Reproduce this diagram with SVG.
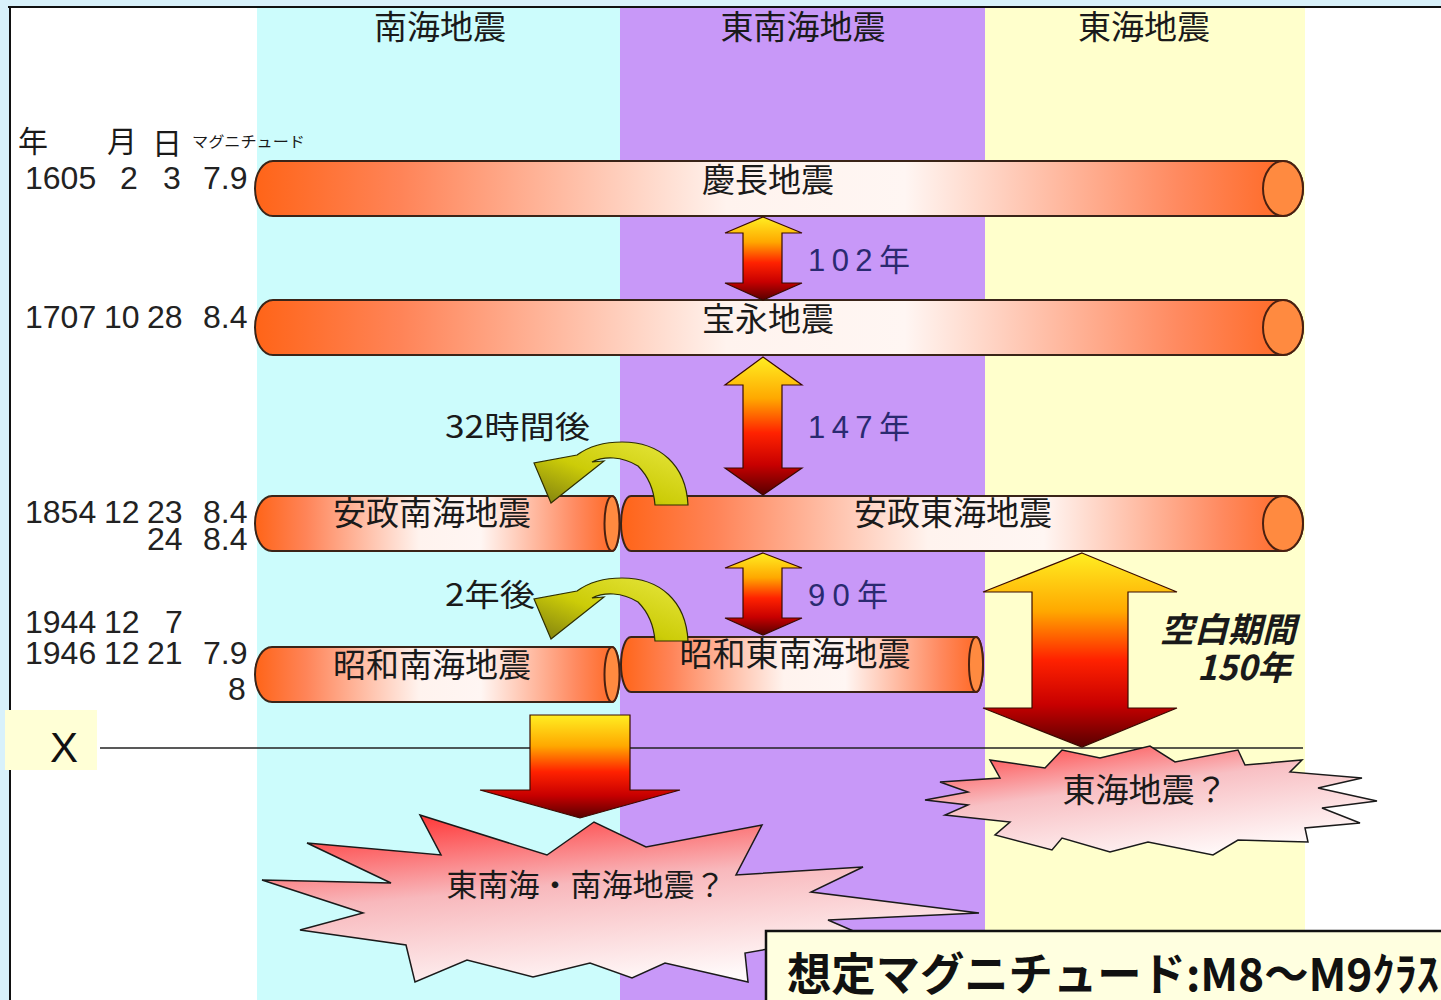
<svg xmlns="http://www.w3.org/2000/svg" width="1441" height="1000" viewBox="0 0 1441 1000">
<defs>
<style>
.jp{font-family:"Noto Sans CJK JP","Noto Sans",sans-serif;fill:#1a1a1a;}
.num{font-family:"Liberation Sans","Noto Sans CJK JP",sans-serif;fill:#222;font-size:32px;}
.hdr{font-size:33px;}
.bar{fill:url(#barGrad);stroke:#3a2418;stroke-width:2;}
.cap{fill:#FF8A40;stroke:#4a2010;stroke-width:2;}
.arr{fill:url(#arrGrad);stroke:#3a0a00;stroke-width:1.2;}
.curv{fill:url(#curvGrad);stroke:#2e2e00;stroke-width:1.2;}
.gap{font-family:"Liberation Sans","Noto Sans CJK JP",sans-serif;fill:#2a2a70;font-size:31px;}
.star{stroke:#1a1a1a;stroke-width:1.5;}
.mag{font-family:"Noto Sans CJK JP","Noto Sans",sans-serif;font-weight:bold;font-size:45px;fill:#111;}
</style>
<linearGradient id="barGrad" x1="0" y1="0" x2="1" y2="0">
<stop offset="0" stop-color="#FF6418"/>
<stop offset="0.14" stop-color="#FF8458"/>
<stop offset="0.45" stop-color="#FFF3EE"/>
<stop offset="0.62" stop-color="#FFF6F3"/>
<stop offset="0.88" stop-color="#FF8A60"/>
<stop offset="1" stop-color="#FF641C"/>
</linearGradient>
<linearGradient id="arrGrad" x1="0" y1="0" x2="0" y2="1">
<stop offset="0" stop-color="#FFEE22"/>
<stop offset="0.3" stop-color="#FFA800"/>
<stop offset="0.55" stop-color="#FF2200"/>
<stop offset="0.78" stop-color="#C80000"/>
<stop offset="1" stop-color="#580000"/>
</linearGradient>
<linearGradient id="curvGrad" x1="1" y1="0" x2="0" y2="1">
<stop offset="0" stop-color="#E8E840"/>
<stop offset="0.55" stop-color="#CCCC08"/>
<stop offset="1" stop-color="#7A7A10"/>
</linearGradient>
<linearGradient id="starGrad1" x1="0.15" y1="0" x2="0.55" y2="1">
<stop offset="0" stop-color="#FF3030"/>
<stop offset="0.45" stop-color="#F8B8BC"/>
<stop offset="1" stop-color="#FFFAFA"/>
</linearGradient>
<linearGradient id="starGrad2" x1="0.05" y1="0" x2="0.6" y2="1">
<stop offset="0" stop-color="#FF3A3A"/>
<stop offset="0.45" stop-color="#F8C0C4"/>
<stop offset="1" stop-color="#FFF8F8"/>
</linearGradient>
</defs>

<!-- background and frame -->
<rect x="0" y="0" width="1441" height="1000" fill="#D8F1FA"/>
<rect x="10" y="7" width="1431" height="993" fill="#FFFFFF"/>
<rect x="257" y="7" width="363" height="993" fill="#CCFCFC"/>
<rect x="620" y="7" width="365" height="993" fill="#C898F8"/>
<rect x="985" y="7" width="320" height="993" fill="#FFFFCC"/>
<line x1="8" y1="7" x2="1441" y2="7" stroke="#111" stroke-width="2"/>
<line x1="10" y1="7" x2="10" y2="1000" stroke="#111" stroke-width="2"/>

<!-- column headers -->
<g id="col-nankai"><text class="jp hdr" x="440" y="39" text-anchor="middle">南海地震</text></g>
<g id="col-tonankai"><text class="jp hdr" x="803" y="39" text-anchor="middle">東南海地震</text></g>
<g id="col-tokai"><text class="jp hdr" x="1144" y="39" text-anchor="middle">東海地震</text></g>

<!-- table header -->
<g id="table-header">
<text class="jp" x="18" y="152" font-size="30">年</text>
<text class="jp" x="107" y="152" font-size="30">月</text>
<text class="jp" x="152" y="154" font-size="30">日</text>
<text class="jp" x="192" y="147" font-size="15" textLength="113" lengthAdjust="spacingAndGlyphs">マグニチュード</text>
</g>

<!-- row data -->
<g id="row-1605">
<text class="num" x="25" y="189">1605</text>
<text class="num" x="120" y="189">2</text>
<text class="num" x="163" y="189">3</text>
<text class="num" x="203" y="189">7.9</text>
</g>
<g id="row-1707">
<text class="num" x="25" y="328">1707</text>
<text class="num" x="104" y="328">10</text>
<text class="num" x="147" y="328">28</text>
<text class="num" x="203" y="328">8.4</text>
</g>
<g id="row-1854">
<text class="num" x="25" y="523">1854</text>
<text class="num" x="104" y="523">12</text>
<text class="num" x="147" y="523">23<tspan x="147" y="550">24</tspan></text>
<text class="num" x="203" y="523">8.4<tspan x="203" y="550">8.4</tspan></text>
</g>
<g id="row-1944">
<text class="num" x="25" y="633">1944<tspan x="25" y="664">1946</tspan></text>
<text class="num" x="104" y="633">12<tspan x="104" y="664">12</tspan></text>
<text class="num" x="165" y="633">7<tspan x="147" y="664">21</tspan></text>
<text class="num" x="203" y="664">7.9<tspan x="228" y="700">8</tspan></text>
</g>

<!-- X axis label and line -->
<g id="x-label">
<rect x="5" y="710" width="92" height="60" fill="#FFFFD6"/>
<text x="64" y="762" font-family="Liberation Sans, Arial, sans-serif" font-size="42" fill="#111" text-anchor="middle">X</text>
</g>
<g id="x-axis"><line x1="100" y1="748" x2="1303" y2="748" stroke="#222" stroke-width="1.6"/></g>

<!-- earthquake bars -->
<g id="keicho">
<path class="bar" d="M273,161 L1283,161 A20,27.5 0 0 1 1283,216 L273,216 A18,27.5 0 0 1 273,161 Z"/>
<ellipse class="cap" cx="1283" cy="188.5" rx="20" ry="27.5"/>
<text class="jp" x="768" y="192" font-size="33" text-anchor="middle">慶長地震</text>
</g>
<g id="hoei">
<path class="bar" d="M273,300 L1283,300 A20,27.5 0 0 1 1283,355 L273,355 A18,27.5 0 0 1 273,300 Z"/>
<ellipse class="cap" cx="1283" cy="327.5" rx="20" ry="27.5"/>
<text class="jp" x="768" y="331" font-size="33" text-anchor="middle">宝永地震</text>
</g>
<g id="ansei-nankai">
<path class="bar" d="M272,496 L612,496 A7.5,27.5 0 0 1 612,551 L272,551 A17,27.5 0 0 1 272,496 Z"/>
<ellipse class="cap" cx="612" cy="523.5" rx="7.5" ry="27.5"/>
<text class="jp" x="432" y="525" font-size="33" text-anchor="middle">安政南海地震</text>
</g>
<g id="ansei-tokai">
<path class="bar" d="M631,496 L1283,496 A20,27.5 0 0 1 1283,551 L631,551 A10,27.5 0 0 1 631,496 Z"/>
<ellipse class="cap" cx="1283" cy="523.5" rx="20" ry="27.5"/>
<text class="jp" x="953" y="525" font-size="33" text-anchor="middle">安政東海地震</text>
</g>
<g id="showa-nankai">
<path class="bar" d="M272,647 L612,647 A7.5,27.5 0 0 1 612,702 L272,702 A17,27.5 0 0 1 272,647 Z"/>
<ellipse class="cap" cx="612" cy="674.5" rx="7.5" ry="27.5"/>
<text class="jp" x="432" y="677" font-size="33" text-anchor="middle">昭和南海地震</text>
</g>
<g id="showa-tonankai">
<path class="bar" d="M631,637 L976,637 A7,27.5 0 0 1 976,692 L631,692 A10,27.5 0 0 1 631,637 Z"/>
<ellipse class="cap" cx="976" cy="664.5" rx="7" ry="27.5"/>
<text class="jp" x="795" y="666" font-size="33" text-anchor="middle">昭和東南海地震</text>
</g>

<!-- future earthquakes -->
<g id="future-tonankai-nankai">
<path class="star" fill="url(#starGrad1)" d="M420,815 L547,855 L594,822 L646,847 L762,825 L736,875 L863,867 L811,892 L979,913 L828,920 L858,933 L745,953 L748,982 L665,963 L632,978 L590,963 L533,977 L467,960 L415,982 L406,945 L300,930 L363,913 L262,880 L391,883 L307,843 L441,855 Z"/>
<text class="jp" x="586" y="896" font-size="31" text-anchor="middle">東南海・南海地震？</text>
</g>
<g id="future-tokai">
<path class="star" fill="url(#starGrad2)" d="M990,760 L1045,768 L1062,750 L1100,758 L1150,746 L1175,762 L1238,750 L1245,765 L1302,760 L1290,772 L1362,778 L1318,788 L1377,801 L1322,808 L1360,823 L1305,828 L1308,842 L1238,840 L1213,855 L1148,842 L1110,852 L1062,838 L1052,850 L995,835 L1010,822 L945,815 L968,805 L925,800 L968,792 L940,782 L1000,778 Z"/>
<text class="jp" x="1145" y="802" font-size="33" text-anchor="middle">東海地震？</text>
</g>

<!-- connectors -->
<g id="connectors">
<path class="arr" d="M763,217 L802,233 L782,233 L782,283 L802,283 L763,300 L725,283 L743,283 L743,233 L725,233 Z"/>
<path class="arr" d="M763,357 L802,385 L782,385 L782,468 L802,468 L763,495 L725,468 L743,468 L743,385 L725,385 Z"/>
<path class="arr" d="M763,553 L802,568 L782,568 L782,618 L802,618 L763,635 L725,618 L743,618 L743,568 L725,568 Z"/>
<path class="arr" d="M1082,553 L1177,592 L1128,592 L1128,708 L1177,708 L1082,747 L983,708 L1032,708 L1032,592 L983,592 Z"/>
<path class="arr" d="M530,715 L630,715 L630,790 L680,790 L580,818 L480,790 L530,790 Z"/>
<path class="curv" d="M688,505 C686,465 660,442 622,442 C602,442 588,447 577,455 L534,463 L551,503 L604,461 L592,462 C604,456 622,456 638,466 C650,478 654,492 655,505 Z"/>
<path class="curv" d="M688,505 C686,465 660,442 622,442 C602,442 588,447 577,455 L534,463 L551,503 L604,461 L592,462 C604,456 622,456 638,466 C650,478 654,492 655,505 Z" transform="translate(0,136)"/>
</g>

<!-- connector labels -->
<g id="labels">
<text class="gap" x="808" y="271" textLength="102" lengthAdjust="spacing">102年</text>
<text class="gap" x="808" y="438" textLength="102" lengthAdjust="spacing">147年</text>
<text class="gap" x="808" y="606" textLength="80" lengthAdjust="spacing">90年</text>
<text class="jp" x="445" y="438" font-size="31" fill="#333" textLength="145" lengthAdjust="spacingAndGlyphs">32時間後</text>
<text class="jp" x="445" y="606" font-size="31" fill="#333" textLength="90" lengthAdjust="spacingAndGlyphs">2年後</text>
<text class="jp" x="1160" y="642" font-size="34" font-weight="bold" font-style="italic">空白期間<tspan x="1197" y="680">150年</tspan></text>
</g>

<!-- assumed magnitude box -->
<g id="magnitude-box">
<rect x="766" y="931" width="690" height="80" fill="#FFFFE0" stroke="#111" stroke-width="2.5"/>
<text class="mag" x="787" y="991" textLength="652" lengthAdjust="spacingAndGlyphs">想定マグニチュード:M8～M9ｸﾗｽ</text>
</g>
</svg>
